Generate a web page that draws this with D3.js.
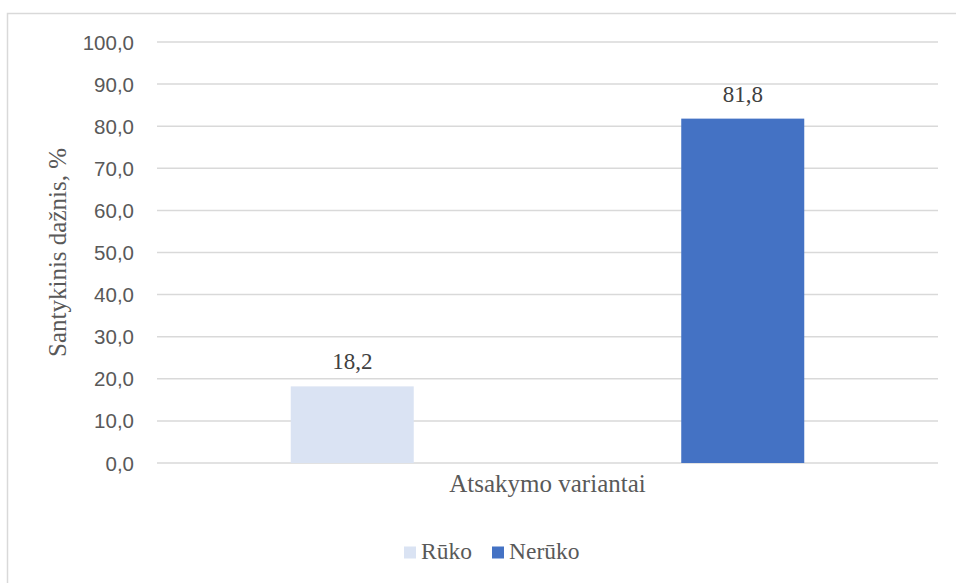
<!DOCTYPE html>
<html>
<head>
<meta charset="utf-8">
<script src="https://cdn.jsdelivr.net/npm/d3@7"></script>
<style>
  body { margin: 0; background: #fff; }
  .serif { font-family: "Liberation Serif", "Times New Roman", Times, "DejaVu Serif", serif; }
  .sans { font-family: "Liberation Sans", Arial, sans-serif; }
</style>
</head>
<body>
<div id="chart"></div>
<script>
// chart values
const category = "Atsakymo variantai";
const seriesNames = ["Rūko", "Nerūko"];
const seriesValues = [18.2, 81.8];
const seriesColors = ["#DAE3F3", "#4472C4"];
const yTicks = [0, 10, 20, 30, 40, 50, 60, 70, 80, 90, 100];
const yTitle = "Santykinis dažnis, %";

const width = 956, height = 583;
const plot = {left: 157, right: 938, top: 42, bottom: 463};
const fmt = d => d.toFixed(1).replace(".", ",");

const svg = d3.select("#chart")
              .append("svg")
              .attr("width", width)
              .attr("height", height);

// outer frame (runs off the right and bottom edges)
svg.append("rect")
   .attr("x", 7.5).attr("y", 13.5)
   .attr("width", 960).attr("height", 600)
   .attr("fill", "none")
   .attr("stroke", "#D9D9D9")
   .attr("stroke-width", 1.5);

const y = d3.scaleLinear()
            .domain([0, 100])
            .range([plot.bottom, plot.top]);

const x = d3.scaleBand()
            .domain(seriesNames)
            .range([plot.left, plot.right])
            .paddingInner(0.685)
            .paddingOuter(0.685 / 2);

// gridlines
svg.append("g")
   .selectAll("line")
   .data(yTicks)
   .enter()
   .append("line")
   .attr("x1", plot.left).attr("x2", plot.right)
   .attr("y1", d => y(d)).attr("y2", d => y(d))
   .attr("stroke", "#D9D9D9")
   .attr("stroke-width", 1.5);

// y tick labels
svg.append("g")
   .selectAll("text")
   .data(yTicks)
   .enter()
   .append("text")
   .attr("class", "sans")
   .attr("x", 134)
   .attr("y", d => y(d) + 7.5)
   .attr("text-anchor", "end")
   .attr("font-size", 20.5)
   .attr("fill", "#595959")
   .text(fmt);

// bars
svg.append("g")
   .selectAll("rect")
   .data(seriesNames)
   .enter()
   .append("rect")
   .attr("x", d => x(d))
   .attr("y", (d, i) => y(seriesValues[i]))
   .attr("width", x.bandwidth())
   .attr("height", (d, i) => y(0) - y(seriesValues[i]))
   .attr("fill", (d, i) => seriesColors[i]);

// value labels
svg.append("g")
   .selectAll("text")
   .data(seriesNames)
   .enter()
   .append("text")
   .attr("class", "serif")
   .attr("x", d => x(d) + x.bandwidth() / 2)
   .attr("y", (d, i) => y(seriesValues[i]) - 17)
   .attr("text-anchor", "middle")
   .attr("font-size", 23)
   .attr("fill", "#404040")
   .text((d, i) => fmt(seriesValues[i]));

// axis titles
svg.append("text")
   .attr("class", "serif")
   .attr("x", (plot.left + plot.right) / 2)
   .attr("y", 492)
   .attr("text-anchor", "middle")
   .attr("font-size", 25)
   .attr("fill", "#595959")
   .text(category);

svg.append("text")
   .attr("class", "serif")
   .attr("transform", "translate(66," + y(50) + ") rotate(-90)")
   .attr("text-anchor", "middle")
   .attr("font-size", 25)
   .attr("fill", "#595959")
   .text(yTitle);

// legend
const legendX = [404, 492];
const legend = svg.append("g")
                  .selectAll("g")
                  .data(seriesNames)
                  .enter()
                  .append("g")
                  .attr("transform", (d, i) => "translate(" + legendX[i] + ",0)");
legend.append("rect")
      .attr("x", 0).attr("y", 546.5)
      .attr("width", 12).attr("height", 12)
      .attr("fill", (d, i) => seriesColors[i]);
legend.append("text")
      .attr("class", "serif")
      .attr("x", 17).attr("y", 559)
      .attr("font-size", 23.5)
      .attr("fill", "#595959")
      .text(d => d);
</script>
</body>
</html>
